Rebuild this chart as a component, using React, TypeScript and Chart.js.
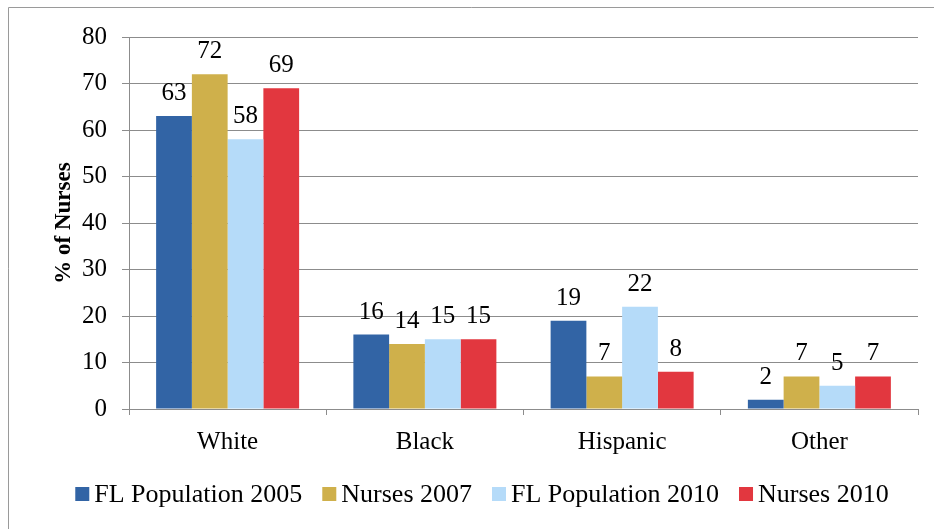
import React, { useEffect, useRef } from "react";
import { Chart, registerables } from "chart.js";

Chart.register(...registerables);

const categories = ["White", "Black", "Hispanic", "Other"];
const seriesNames = ["FL Population 2005", "Nurses 2007", "FL Population 2010", "Nurses 2010"];
const flPop2005 = [63, 16, 19, 2];
const nurses2007 = [72, 14, 7, 7];
const flPop2010 = [58, 15, 22, 5];
const nurses2010 = [69, 15, 8, 7];
const seriesColors = ["#3264A5", "#CFB04B", "#B5DBF9", "#E2373F"];
const yTitle = "% of Nurses";

const FONT = "'Liberation Serif', 'Times New Roman', serif";
const GRID = "#8c8c8c";

const dataLabels = {
  id: "dataLabels",
  afterDatasetsDraw(chart: any) {
    const ctx = chart.ctx;
    ctx.save();
    ctx.font = `25px ${FONT}`;
    ctx.fillStyle = "#000";
    ctx.textAlign = "center";
    ctx.textBaseline = "alphabetic";
    chart.data.datasets.forEach((ds: any, i: number) => {
      const meta = chart.getDatasetMeta(i);
      meta.data.forEach((bar: any, j: number) => {
        ctx.fillText(String(ds.data[j]), bar.x, bar.y - 16);
      });
    });
    ctx.restore();
  },
};

const customLegend = {
  id: "customLegend",
  afterDraw(chart: any) {
    const ctx = chart.ctx;
    ctx.save();
    ctx.font = `26px ${FONT}`;
    const box = 14;
    const gapText = 5;
    const gapItem = 20;
    const items = chart.data.datasets.map((ds: any) => ({
      label: ds.label,
      color: ds.backgroundColor,
      w: ctx.measureText(ds.label).width,
    }));
    let total = 0;
    items.forEach((it: any, i: number) => {
      total += box + gapText + it.w + (i < items.length - 1 ? gapItem : 0);
    });
    let x = 482 - total / 2;
    const cy = 494;
    ctx.textBaseline = "middle";
    ctx.textAlign = "left";
    items.forEach((it: any) => {
      ctx.fillStyle = it.color;
      ctx.fillRect(x, cy - box / 2, box, box);
      x += box + gapText;
      ctx.fillStyle = "#000";
      ctx.fillText(it.label, x, cy + 1);
      x += it.w + gapItem;
    });
    ctx.restore();
  },
};

const outerBorder = {
  id: "outerBorder",
  beforeDraw(chart: any) {
    const ctx = chart.ctx;
    ctx.save();
    ctx.fillStyle = "#fff";
    ctx.fillRect(0, 0, chart.width, chart.height);
    ctx.strokeStyle = "#9a9a9a";
    ctx.lineWidth = 1;
    ctx.beginPath();
    ctx.moveTo(8.5, chart.height);
    ctx.lineTo(8.5, 7.5);
    ctx.lineTo(chart.width, 7.5);
    ctx.stroke();
    ctx.restore();
  },
};

export default function App() {
  const ref = useRef<HTMLCanvasElement | null>(null);
  useEffect(() => {
    if (!ref.current) return;
    const data = [flPop2005, nurses2007, flPop2010, nurses2010];
    const chart = new Chart(ref.current, {
      type: "bar",
      data: {
        labels: categories,
        datasets: seriesNames.map((name, i) => ({
          label: name,
          data: data[i],
          backgroundColor: seriesColors[i],
          borderWidth: 0,
          barPercentage: 1,
          categoryPercentage: 0.725,
        })),
      },
      options: {
        animation: false,
        responsive: false,
        maintainAspectRatio: false,
        layout: { padding: { left: 9, right: 16, top: 37, bottom: 56 } },
        plugins: {
          legend: { display: false },
          tooltip: { enabled: false },
        },
        scales: {
          x: {
            grid: {
              display: true,
              drawOnChartArea: false,
              drawTicks: true,
              tickLength: 6,
              color: GRID,
              offset: true,
            },
            border: { display: true, color: GRID },
            ticks: {
              color: "#000",
              font: { family: FONT, size: 25 },
              padding: 12,
            },
            afterFit: (s: any) => {
              s.height = 64;
            },
          },
          y: {
            min: 0,
            max: 80,
            ticks: {
              stepSize: 10,
              color: "#000",
              font: { family: FONT, size: 25 },
              padding: 15,
            },
            grid: { color: GRID, tickLength: 7, drawTicks: true },
            border: { display: true, color: GRID },
            title: {
              display: true,
              text: yTitle,
              color: "#000",
              font: { family: FONT, size: 23, weight: "bold" },
              padding: { top: 41, bottom: 0 },
            },
            afterFit: (s: any) => {
              s.width = 120;
            },
          },
        },
      },
      plugins: [outerBorder, dataLabels, customLegend],
    });
    return () => chart.destroy();
  }, []);
  return (
    <div style={{ position: "fixed", left: 0, top: 0, width: 934, height: 529 }}>
      <canvas ref={ref} width={934} height={529} style={{ display: "block", width: 934, height: 529 }} />
    </div>
  );
}
